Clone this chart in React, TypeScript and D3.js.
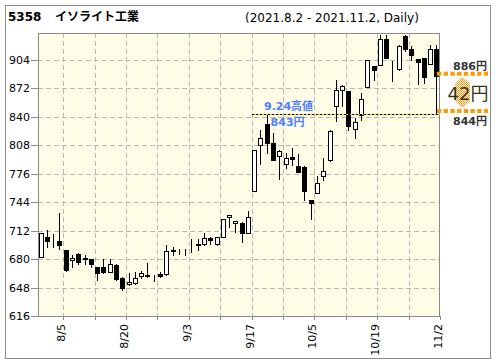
import React, { useEffect, useRef } from 'react';
import * as d3 from 'd3';

// trading days 2021.8.2 - 2021.11.2
const dates = [
  '8/2', '8/3', '8/4', '8/5', '8/6', '8/10', '8/11', '8/12', '8/13', '8/16',
  '8/17', '8/18', '8/19', '8/20', '8/23', '8/24', '8/25', '8/26', '8/27', '8/30',
  '8/31', '9/1', '9/2', '9/3', '9/6', '9/7', '9/8', '9/9', '9/10', '9/13',
  '9/14', '9/15', '9/16', '9/17', '9/21', '9/22', '9/24', '9/27', '9/28', '9/29',
  '9/30', '10/1', '10/4', '10/5', '10/6', '10/7', '10/8', '10/11', '10/12', '10/13',
  '10/14', '10/15', '10/18', '10/19', '10/20', '10/21', '10/22', '10/25', '10/26', '10/27',
  '10/28', '10/29', '11/1', '11/2',
];
const opens = [
  682, 705, 699.5, 700, 690, 678.5, 686, 681, 680, 671,
  671, 666, 673, 659, 651.5, 653, 660.5, 662, 658.5, 663,
  663, 690, 689, 687, 692, 697, 696.5, 704, 697, 705,
  727, 720.7, 720, 709.5, 757, 808.6, 832, 810, 795.5, 787,
  795, 785, 783.5, 746, 754, 773.4, 791, 851.6, 870, 868.5,
  826.6, 842.3, 873.3, 896.5, 898.4, 927.6, 892, 893, 931, 916.4,
  905, 906, 899.5, 915.6,
];
const highs = [
  709, 713, 708, 732, 690, 685, 687, 684, 680, 671,
  680, 680, 674, 660, 664, 665, 667, 676, 662, 666,
  696, 694, 691, 691, 702, 702, 709.5, 705, 705, 725,
  729, 723, 722, 734, 803, 825.5, 843, 822, 802, 799,
  805, 798.5, 784, 746, 773, 793, 825, 881.6, 876, 869,
  839, 866.6, 904, 897, 932, 932, 903, 920, 931.5, 919,
  905, 906, 920, 920,
];
const lows = [
  682, 694, 693, 691, 667, 671, 674, 674, 671, 657,
  664, 665, 657, 645, 651, 652, 659, 660, 655, 660,
  662, 684, 686, 684, 688, 690, 696, 697, 696, 705,
  716, 710, 699, 709, 756, 786.5, 799, 791, 770.5, 782,
  786, 778, 746, 724.5, 754, 768.6, 790, 835, 851.6, 824.7,
  816, 836, 873, 881, 898, 906, 880, 892, 913.7, 904,
  876.5, 877.7, 899, 844,
];
const closes = [
  709, 700, 699, 696, 668, 681, 677, 680, 674, 664,
  665, 674, 657.5, 647, 654.5, 659, 664, 661, 658.5, 661,
  689, 689, 689, 687, 692, 695.5, 704, 701, 705, 724.5,
  729, 723, 709.5, 727, 802, 816.5, 810, 791, 801, 794,
  792, 778, 756.5, 743.5, 765, 779.4, 824, 869.6, 875, 829.6,
  834, 860.2, 903.2, 892, 927.6, 906, 892, 919, 916.4, 909.6,
  901, 885, 916.4, 886,
];

const yTicks = [616, 648, 680, 712, 744, 776, 808, 840, 872, 904];
const labeledDates = ['8/5', '8/20', '9/3', '9/17', '10/5', '10/19', '11/2'];
const minorDates = ['8/13', '8/27', '9/10', '9/28', '10/12', '10/26'];

const highLineStart = '9/21';
const highLabel = '9.24高値';
const highPrice = 843;
const lastPrice = 886;
const basePrice = 844;

const FONT = "'DejaVu Sans', 'Noto Sans CJK JP', sans-serif";

const App = () => {
  const ref = useRef<SVGSVGElement>(null);

  useEffect(() => {
    const svg = d3.select(ref.current);
    svg.selectAll('*').remove();

    const W = 496, H = 364;
    const left = 38, right = 440, top = 33, bottom = 316;

    svg.attr('width', W).attr('height', H).style('font-family', FONT);

    const defs = svg.append('defs');
    const bg = defs.append('pattern')
      .attr('id', 'bgdots').attr('width', 2).attr('height', 2)
      .attr('patternUnits', 'userSpaceOnUse');
    bg.append('rect').attr('width', 2).attr('height', 2).attr('fill', '#fffff8');
    bg.append('rect').attr('width', 1).attr('height', 1).attr('fill', '#fffbd6');
    bg.append('rect').attr('x', 1).attr('y', 1).attr('width', 1).attr('height', 1).attr('fill', '#fffbd6');

    const chk = defs.append('pattern')
      .attr('id', 'orangechk').attr('width', 2).attr('height', 2)
      .attr('patternUnits', 'userSpaceOnUse');
    chk.append('rect').attr('width', 1).attr('height', 1).attr('fill', '#f90');
    chk.append('rect').attr('x', 1).attr('y', 1).attr('width', 1).attr('height', 1).attr('fill', '#f90');

    // outer frame
    svg.append('rect')
      .attr('x', 0).attr('y', 0).attr('width', W).attr('height', H).attr('fill', '#fff');
    svg.append('rect')
      .attr('x', 5.5).attr('y', 5.5).attr('width', 485).attr('height', 353)
      .attr('fill', 'none').attr('stroke', '#8c8c8c');

    // title
    svg.append('text')
      .attr('x', 8).attr('y', 21)
      .attr('font-size', 12).attr('font-weight', 'bold').attr('fill', '#000')
      .text('5358');
    svg.append('text')
      .attr('x', 55).attr('y', 21)
      .attr('font-size', 12).attr('font-weight', 'bold').attr('fill', '#000')
      .text('イソライト工業');
    svg.append('text')
      .attr('x', 245).attr('y', 22)
      .attr('font-size', 12).attr('fill', '#000')
      .text('(2021.8.2 - 2021.11.2, Daily)');

    const x = d3.scaleBand().domain(dates).range([left, right]).padding(0);
    const y = d3.scaleLinear().domain([616, 934]).range([bottom, top]);
    const bw = x.bandwidth();
    const tickX = (d: string) => Math.round((x(d) as number) + bw) + 0.5;

    // plot background
    svg.append('rect')
      .attr('x', left).attr('y', top).attr('width', right - left).attr('height', bottom - top)
      .attr('fill', 'url(#bgdots)');

    // grid
    const grid = svg.append('g').attr('stroke', '#b8b8b8').attr('stroke-dasharray', '5,3')
      .attr('shape-rendering', 'crispEdges');
    yTicks.filter(t => t !== 616).forEach(t => {
      const yy = Math.round(y(t)) + 0.5;
      grid.append('line').attr('x1', left).attr('x2', right).attr('y1', yy).attr('y2', yy);
    });
    [...labeledDates, ...minorDates].filter(d => d !== '11/2').forEach(d => {
      const xx = tickX(d);
      grid.append('line').attr('x1', xx).attr('x2', xx).attr('y1', top).attr('y2', bottom);
    });

    // candles
    const candles = svg.append('g').attr('shape-rendering', 'crispEdges');
    dates.forEach((d, i) => {
      const bx = Math.round((x(d) as number) + (bw - 5) / 2);
      const cx = bx + 2.5;
      const o = opens[i], c = closes[i];
      const up = c >= o;
      const yt = Math.round(y(Math.max(o, c))) + 0.5;
      const yb = Math.round(y(Math.min(o, c))) + 0.5;
      candles.append('line')
        .attr('x1', cx).attr('x2', cx)
        .attr('y1', Math.round(y(highs[i]))).attr('y2', Math.round(y(lows[i])) + 1)
        .attr('stroke', '#000');
      candles.append('rect')
        .attr('x', bx + 0.5).attr('y', yt)
        .attr('width', 4).attr('height', Math.max(0, yb - yt))
        .attr('fill', up ? '#fff' : '#000')
        .attr('stroke', '#000');
    });

    // axes frame
    svg.append('rect')
      .attr('x', left + 0.5).attr('y', top + 0.5)
      .attr('width', right - left - 1).attr('height', bottom - top)
      .attr('fill', 'none').attr('stroke', '#8a8a8a').attr('shape-rendering', 'crispEdges');

    // y axis ticks + labels
    yTicks.forEach(t => {
      const yy = Math.round(y(t)) + 0.5;
      svg.append('line').attr('x1', 31).attr('x2', left).attr('y1', yy).attr('y2', yy)
        .attr('stroke', '#8a8a8a').attr('shape-rendering', 'crispEdges');
      svg.append('text')
        .attr('x', 30).attr('y', yy).attr('dy', '0.35em')
        .attr('text-anchor', 'end').attr('font-size', 11).attr('fill', '#000')
        .text(String(t));
    });

    // x axis ticks + labels
    [...labeledDates, ...minorDates].forEach(d => {
      const xx = tickX(d);
      svg.append('line').attr('x1', xx).attr('x2', xx).attr('y1', bottom).attr('y2', bottom + 4)
        .attr('stroke', '#8a8a8a').attr('shape-rendering', 'crispEdges');
    });
    labeledDates.forEach(d => {
      const xx = tickX(d) - 2;
      svg.append('text')
        .attr('transform', `translate(${xx},${bottom + 8}) rotate(-90)`)
        .attr('dy', '0.35em')
        .attr('text-anchor', 'end').attr('font-size', 11).attr('fill', '#000')
        .text(d);
    });

    // 9.24 high line
    const hy = Math.round(y(highPrice)) + 0.5;
    const hx0 = x(highLineStart) as number;
    svg.append('line')
      .attr('x1', hx0).attr('x2', right).attr('y1', hy).attr('y2', hy)
      .attr('stroke', '#f0c000').attr('shape-rendering', 'crispEdges');
    svg.append('line')
      .attr('x1', hx0).attr('x2', right).attr('y1', hy).attr('y2', hy)
      .attr('stroke', '#000').attr('stroke-dasharray', '2,2').attr('shape-rendering', 'crispEdges');
    svg.append('text')
      .attr('x', hx0 + 37).attr('y', hy - 5)
      .attr('text-anchor', 'middle').attr('font-size', 11).attr('font-weight', 'bold')
      .attr('fill', '#4d7cff').text(highLabel);
    svg.append('text')
      .attr('x', hx0 + 36).attr('y', hy + 11)
      .attr('text-anchor', 'middle').attr('font-size', 11).attr('font-weight', 'bold')
      .attr('fill', '#4d7cff').text(`${highPrice}円`);

    // range markers at right
    const yLast = y(lastPrice) - 2;
    const yBase = y(basePrice) - 2;
    [yLast, yBase].forEach(yy => {
      svg.append('line')
        .attr('x1', 437).attr('x2', 488).attr('y1', yy).attr('y2', yy)
        .attr('stroke', '#f90').attr('stroke-width', 4).attr('stroke-dasharray', '4.3,2.4');
    });
    const ax = 462.5, aw = 7.5;
    const a0 = yLast + 3, a1 = yBase - 3;
    svg.append('path')
      .attr('d', `M${ax},${a0} L${ax + aw},${a0 + 7} L${ax + aw},${a1 - 7} L${ax},${a1} L${ax - aw},${a1 - 7} L${ax - aw},${a0 + 7} Z`)
      .attr('fill', 'url(#orangechk)');
    svg.append('text')
      .attr('x', 470).attr('y', yLast - 4)
      .attr('text-anchor', 'middle').attr('font-size', 11).attr('font-weight', 'bold')
      .attr('fill', '#333').text(`${lastPrice}円`);
    svg.append('text')
      .attr('x', 470).attr('y', yBase + 14)
      .attr('text-anchor', 'middle').attr('font-size', 11).attr('font-weight', 'bold')
      .attr('fill', '#333').text(`${basePrice}円`);
    svg.append('text')
      .attr('x', 468).attr('y', 99.5)
      .attr('text-anchor', 'middle').attr('font-size', 18)
      .attr('fill', '#33331a').text(`${lastPrice - basePrice}円`);
  }, []);

  return (
    <svg ref={ref} style={{ position: 'absolute', left: 0, top: 0, display: 'block' }} />
  );
};

export default App;
